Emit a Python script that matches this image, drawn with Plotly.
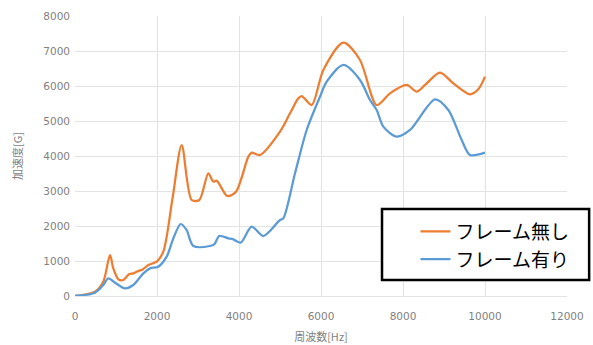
import plotly.graph_objects as go

# Acceleration spectra, without frame vs. with frame
freq_no_frame = [0, 250, 488, 690, 854, 934, 1057, 1179, 1325, 1422, 1504, 1650, 1789, 1992,
                 2154, 2380, 2602, 2846, 3033, 3252, 3374, 3455, 3715, 3927, 4228, 4309, 4512,
                 5000, 5244, 5447, 5529, 5773, 6057, 6545, 6951, 7358, 7683, 8090, 8334, 8537,
                 8903, 9228, 9634, 9837, 10000]
acc_no_frame = [0, 40, 124, 410, 1171, 790, 476, 457, 628, 648, 695, 760, 886, 981,
                1267, 2800, 4314, 2743, 2743, 3505, 3266, 3295, 2857, 2981, 3981, 4095, 4029,
                4695, 5219, 5648, 5714, 5457, 6457, 7238, 6743, 5457, 5790, 6029, 5838, 6029,
                6381, 6076, 5762, 5905, 6267]

freq_frame = [0, 250, 488, 690, 812, 976, 1220, 1422, 1667, 1829, 2032, 2236, 2400, 2577,
              2720, 2886, 3293, 3400, 3520, 3740, 3862, 4041, 4309, 4594, 5000, 5081, 5366,
              5651, 5976, 6138, 6545, 6951, 7195, 7358, 7520, 7846, 8171, 8781, 9106, 9431,
              9634, 10000]
acc_frame = [0, 30, 95, 314, 505, 381, 219, 314, 648, 790, 838, 1124, 1650, 2057,
             1886, 1429, 1429, 1480, 1714, 1648, 1619, 1524, 1981, 1714, 2171, 2219, 3505,
             4743, 5695, 6124, 6600, 6171, 5600, 5314, 4838, 4552, 4743, 5619, 5314, 4457,
             4029, 4095]

series_names = ["フレーム無し", "フレーム有り"]
x_ticks = [0, 2000, 4000, 6000, 8000, 10000, 12000]
y_ticks = [0, 1000, 2000, 3000, 4000, 5000, 6000, 7000, 8000]

ORANGE = "#ED7D31"
BLUE = "#5B9BD5"
GRID = "#e3e3e3"
TICK = "#7f7f7f"
TICK_FONT = dict(size=10.5, color=TICK, family="DejaVu Sans")

fig = go.Figure()
fig.add_trace(go.Scatter(x=freq_no_frame, y=acc_no_frame, mode="lines", name=series_names[0],
                         line=dict(color=ORANGE, width=2.25, shape="spline", smoothing=0.8)))
fig.add_trace(go.Scatter(x=freq_frame, y=acc_frame, mode="lines", name=series_names[1],
                         line=dict(color=BLUE, width=2.25, shape="spline", smoothing=0.8)))

# framed legend box
fig.add_shape(type="rect", xref="paper", yref="paper",
              x0=0.624, x1=1.045, y0=0.057, y1=0.311,
              line=dict(color="black", width=2.5), fillcolor="white", layer="above")

fig.update_layout(
    width=593, height=345,
    margin=dict(l=75, r=26, t=16, b=49),
    paper_bgcolor="white", plot_bgcolor="white",
    font=dict(family="Noto Sans CJK JP, Noto Sans, sans-serif", color=TICK),
    showlegend=True,
    legend=dict(
        x=0.692, y=0.18, xanchor="left", yanchor="middle",
        bgcolor="rgba(0,0,0,0)", borderwidth=0,
        font=dict(size=19, color="black", family="Noto Sans CJK JP"),
        tracegroupgap=0, itemwidth=30,
    ),
    xaxis=dict(
        range=[0, 12000], tickvals=x_ticks, ticktext=[str(v) for v in x_ticks],
        showgrid=True, gridcolor=GRID, gridwidth=1, zeroline=False,
        showline=True, linecolor=GRID, linewidth=1, mirror=False,
        tickfont=TICK_FONT, ticks="", ticklabelstandoff=10, automargin=False,
        title=dict(text="周波数[Hz]", font=dict(size=11, color=TICK), standoff=12),
    ),
    yaxis=dict(
        range=[0, 8000], tickvals=y_ticks, ticktext=[str(v) for v in y_ticks],
        showgrid=True, gridcolor=GRID, gridwidth=1, zeroline=False,
        tickfont=TICK_FONT, ticks="", ticklabelstandoff=4, automargin=False,
        title=dict(text="加速度[G]", font=dict(size=11, color=TICK), standoff=18),
    ),
)

fig.write_html("out.html")
